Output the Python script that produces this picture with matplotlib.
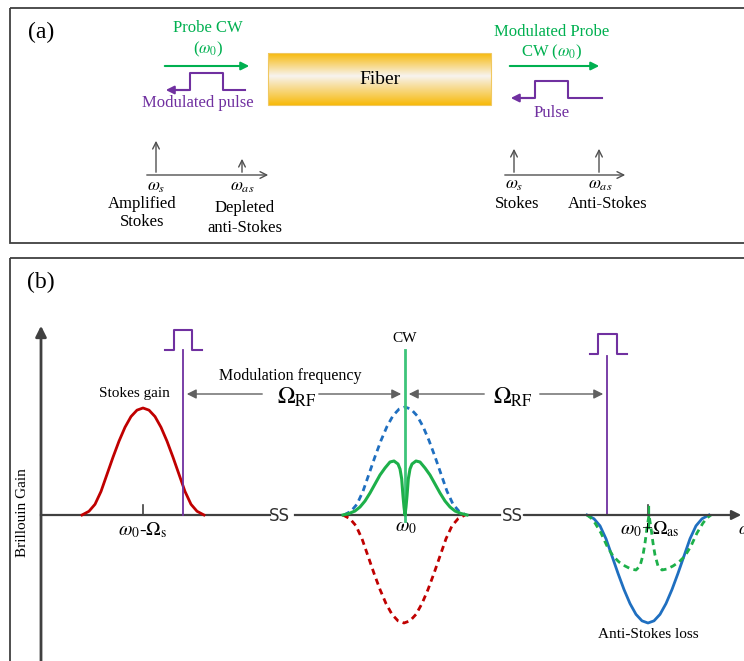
import numpy as np
import matplotlib
matplotlib.use('Agg')
import matplotlib.pyplot as plt
from matplotlib.patches import Rectangle

plt.rcParams['font.family'] = ['Liberation Serif', 'DejaVu Serif']
plt.rcParams['mathtext.fontset'] = 'stix'

# gain profile: offset from centre (px), fraction of peak
profile_off = [0, 6, 12, 18, 24, 30, 36, 42, 48, 54, 61]
profile_val = [1.0, 0.98, 0.92, 0.82, 0.69, 0.54, 0.38, 0.22, 0.10, 0.035, 0.0]

# curves: centre and peak height (px, + is gain, - is loss)
stokes_c, stokes_h = 143, 107
blue_dash_c, blue_dash_h = 405, 108
red_dash_c, red_dash_h = 404, -108
as_loss_c, as_loss_h = 648, -108

# green two-hump gain around the CW
green_off = [0, 1, 2, 3.3, 5, 7, 11, 15, 20, 25, 30, 35, 40, 45, 50, 56, 62]
green_h = [0, 8, 19, 36, 46, 51, 54, 53, 47, 40, 31, 22, 14, 8, 4, 1.5, 0]

# green dashed loss around anti-Stokes
gd_off = [0, 2, 4, 6, 9, 13, 18, 24, 30, 36, 42, 48, 54, 58, 62]
gd_h = [0, 13, 28, 40, 51, 55, 54, 51, 47, 41, 31, 18, 8, 3, 0]

base_y = 515

RED = '#C00000'
BLUE = '#1F6FC0'
GREEN = '#1DB04A'
CWGREEN = '#3DC47A'
PURPLE = '#7030A0'
TXTGREEN = '#00B050'
GRAY = '#404040'


def mirror(off, val):
    off = np.asarray(off, float)
    val = np.asarray(val, float)
    x = np.concatenate([-off[::-1], off[1:]])
    y = np.concatenate([val[::-1], val[1:]])
    return x, y


fig = plt.figure(figsize=(7.44, 6.61), dpi=100)
ax = fig.add_axes([0, 0, 1, 1])
ax.set_xlim(0, 744)
ax.set_ylim(661, 0)
ax.axis('off')

# panel frames
ax.add_patch(Rectangle((10, 8), 740, 235, fill=False, ec=GRAY, lw=1.3))
ax.add_patch(Rectangle((10, 258), 740, 420, fill=False, ec=GRAY, lw=1.3))

# ---------------- panel (a) ----------------
ax.text(41, 32, '(a)', fontsize=17, ha='center', va='center')

# fiber
grad = np.concatenate([np.linspace(0, 1, 22), np.linspace(1, 0, 28)])
gold = np.array([0.97, 0.73, 0.05])
white = np.array([0.97, 0.95, 0.92])
img = gold[None, :] * (1 - grad[:, None]) + white[None, :] * grad[:, None]
ax.imshow(img[:, None, :], extent=[268, 491, 105, 53], aspect='auto', zorder=1)
ax.add_patch(Rectangle((268, 53), 223, 52, fill=False, ec='#F0C860', lw=0.8, zorder=2))
ax.text(380, 79, 'Fiber', fontsize=14, ha='center', va='center', zorder=3)

# left side
ax.text(208, 28, 'Probe CW', fontsize=12, color=TXTGREEN, ha='center', va='center')
ax.text(208, 49, r'($\omega_0$)', fontsize=12, color=TXTGREEN, ha='center', va='center')
ax.annotate('', xy=(252, 66), xytext=(162, 66),
            arrowprops=dict(arrowstyle='-|>', color=TXTGREEN, lw=1.5, mutation_scale=12))
ax.plot([245, 223, 223, 190, 190, 175], [90, 90, 73, 73, 90, 90], color=PURPLE, lw=1.5)
ax.annotate('', xy=(163, 90), xytext=(191, 90),
            arrowprops=dict(arrowstyle='-|>', color=PURPLE, lw=1.5, mutation_scale=12))
ax.text(198, 103, 'Modulated pulse', fontsize=12, color=PURPLE, ha='center', va='center')

ax.annotate('', xy=(271, 175), xytext=(144, 175),
            arrowprops=dict(arrowstyle='->', color='#505050', lw=1, mutation_scale=12))
ax.annotate('', xy=(156, 138), xytext=(156, 175),
            arrowprops=dict(arrowstyle='->', color='#505050', lw=1, mutation_scale=12))
ax.annotate('', xy=(242, 156), xytext=(242, 175),
            arrowprops=dict(arrowstyle='->', color='#505050', lw=1, mutation_scale=12))
ax.text(156, 187, r'$\omega_s$', fontsize=12.5, ha='center', va='center')
ax.text(242, 187, r'$\omega_{as}$', fontsize=12.5, ha='center', va='center')
ax.text(142, 213, 'Amplified\nStokes', fontsize=12, ha='center', va='center', linespacing=1.2)
ax.text(245, 218, 'Depleted\nanti-Stokes', fontsize=12, ha='center', va='center', linespacing=1.3)

# right side
ax.text(552, 32, 'Modulated Probe', fontsize=12, color=TXTGREEN, ha='center', va='center')
ax.text(552, 52, r'CW ($\omega_0$)', fontsize=12, color=TXTGREEN, ha='center', va='center')
ax.annotate('', xy=(602, 66), xytext=(507, 66),
            arrowprops=dict(arrowstyle='-|>', color=TXTGREEN, lw=1.5, mutation_scale=12))
ax.plot([602, 568, 568, 535, 535, 520], [98, 98, 81, 81, 98, 98], color=PURPLE, lw=1.5)
ax.annotate('', xy=(508, 98), xytext=(536, 98),
            arrowprops=dict(arrowstyle='-|>', color=PURPLE, lw=1.5, mutation_scale=12))
ax.text(552, 113, 'Pulse', fontsize=12, color=PURPLE, ha='center', va='center')

ax.annotate('', xy=(628, 175), xytext=(502, 175),
            arrowprops=dict(arrowstyle='->', color='#505050', lw=1, mutation_scale=12))
ax.annotate('', xy=(514, 146), xytext=(514, 175),
            arrowprops=dict(arrowstyle='->', color='#505050', lw=1, mutation_scale=12))
ax.annotate('', xy=(599, 146), xytext=(599, 175),
            arrowprops=dict(arrowstyle='->', color='#505050', lw=1, mutation_scale=12))
ax.text(514, 185, r'$\omega_s$', fontsize=12.5, ha='center', va='center')
ax.text(600, 185, r'$\omega_{as}$', fontsize=12.5, ha='center', va='center')
ax.text(517, 204, 'Stokes', fontsize=12, ha='center', va='center')
ax.text(608, 204, 'Anti-Stokes', fontsize=12, ha='center', va='center')

# ---------------- panel (b) ----------------
ax.text(41, 282, '(b)', fontsize=17, ha='center', va='center')

# axes
ax.annotate('', xy=(41, 323), xytext=(41, 665),
            arrowprops=dict(arrowstyle='-|>', color=GRAY, lw=2, mutation_scale=16))
ax.text(23, 513, 'Brillouin Gain', fontsize=11, rotation=90, ha='center', va='center')
ax.plot([41, 270], [base_y, base_y], color=GRAY, lw=1.6)
ax.plot([295, 500], [base_y, base_y], color=GRAY, lw=1.6)
ax.annotate('', xy=(744, base_y), xytext=(521, base_y),
            arrowprops=dict(arrowstyle='-|>', color=GRAY, lw=1.6, mutation_scale=14))
for bx in [279, 512]:
    ax.text(bx, base_y + 1, 'SS', fontsize=12, ha='center', va='center',
            family=['Liberation Sans Narrow', 'DejaVu Sans'], color='#303030')
ax.text(738, 530, r'$\omega$', fontsize=13, ha='left', va='center', clip_on=False)

# Stokes gain
x, y = mirror(profile_off, profile_val)
ax.plot(stokes_c + x, base_y - stokes_h * y, color=RED, lw=2)
ax.plot([143, 143], [505, base_y], color=GRAY, lw=1.2)
ax.text(143, 530, r'$\omega_0$-$\Omega_{\rm s}$', fontsize=14, ha='center', va='center')
ax.text(134, 394, 'Stokes gain', fontsize=11, ha='center', va='center')

# left pulse
ax.plot([165, 174, 174, 192, 192, 202], [350, 350, 330, 330, 350, 350], color=PURPLE, lw=1.5)
ax.plot([183, 183], [350, base_y], color=PURPLE, lw=1.3)

# modulation frequency arrows
ax.text(290, 376, 'Modulation frequency', fontsize=11.5, ha='center', va='center')
ax.text(297, 397, r'$\Omega_{\rm RF}$', fontsize=17, ha='center', va='center')
ax.text(513, 397, r'$\Omega_{\rm RF}$', fontsize=17, ha='center', va='center')
arr = dict(arrowstyle='-|>', color='#606060', lw=1, mutation_scale=14)
ax.annotate('', xy=(184, 394), xytext=(265, 394), arrowprops=arr)
ax.annotate('', xy=(404, 394), xytext=(316, 394), arrowprops=arr)
ax.annotate('', xy=(406, 394), xytext=(487, 394), arrowprops=arr)
ax.annotate('', xy=(606, 394), xytext=(537, 394), arrowprops=arr)

# CW line and curves in the middle
ax.plot([405, 405], [350, 521], color=CWGREEN, lw=2, zorder=4)
ax.text(405, 339, 'CW', fontsize=11, ha='center', va='center')
ax.plot(blue_dash_c + x, base_y - blue_dash_h * y, color=BLUE, lw=2, dashes=(2.2, 1.6))
ax.plot(red_dash_c + x, base_y - red_dash_h * y, color=RED, lw=2, dashes=(2.2, 1.6))
gx, gy = mirror(green_off, green_h)
ax.plot(405 + gx, base_y - gy, color=GREEN, lw=2.2, zorder=5)
ax.text(406, 528, r'$\omega_0$', fontsize=14, ha='center', va='center')

# right pulse
ax.plot([590, 598, 598, 617, 617, 627], [354, 354, 334, 334, 354, 354], color=PURPLE, lw=1.5)
ax.plot([607, 607], [356, base_y], color=PURPLE, lw=1.3)

# anti-Stokes loss
ax.plot(as_loss_c + x, base_y - as_loss_h * y, color=BLUE, lw=2)
dx, dy = mirror(gd_off, gd_h)
ax.plot(649 + dx, base_y + dy, color=GREEN, lw=2, dashes=(2.2, 1.6))
ax.plot([648, 648], [505, base_y], color=GRAY, lw=1.2)
ax.plot([649, 649], [507, 528], color=GREEN, lw=1.6)
ax.text(650, 529, r'$\omega_0$+$\Omega_{\rm as}$', fontsize=14, ha='center', va='center')
ax.text(648, 635, 'Anti-Stokes loss', fontsize=11, ha='center', va='center')

fig.savefig('out.png', dpi=100)
